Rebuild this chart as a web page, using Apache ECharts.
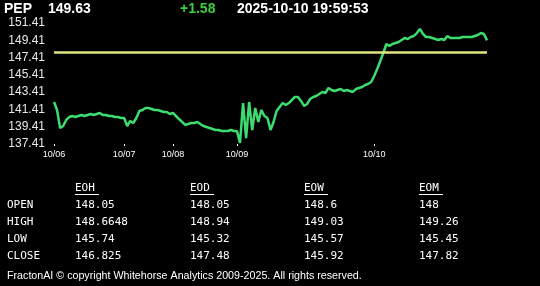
<!DOCTYPE html>
<html>
<head>
<meta charset="utf-8">
<script src="https://cdn.jsdelivr.net/npm/echarts@6/dist/echarts.min.js"></script>
<style>
html,body{margin:0;padding:0;background:#000;}
#c{width:540px;height:286px;}
</style>
</head>
<body>
<div id="c"></div>
<script>
// ---- data ----
var symbol = 'PEP';
var lastPrice = '149.63';
var change = '+1.58';
var stamp = '2025-10-10 19:59:53';
var prevClose = 148.05;

var days = ['10/06', '10/07', '10/08', '10/09', '10/10'];
var price1006 = [142.27,141.34,139.26,139.49,140.19,140.53,140.65,140.53,140.65,140.77,140.65,140.77,140.88,140.77,140.88,141.00,140.77,140.77,140.65,140.65,140.53,140.53,140.42];
var price1007 = [140.42,139.49,140.07,139.84,140.42,141.23,141.34,141.58,141.58,141.46,141.34,141.34,141.23,141.11,141.11,140.88];
var price1008 = [141.00,140.65,140.30,139.96,139.61,139.72,139.84,139.84,139.96,139.72,139.49,139.38,139.26,139.15,139.03,139.03,138.91,138.91,138.91,139.03,138.91];
var price1009 = [138.91,137.53,142.15,138.10,142.27,139.03,141.58,139.96,141.34,140.65,140.42,139.03,139.96,141.23,141.69,142.15,141.92,142.15,142.50,142.85,142.85,142.39,141.81,142.04,142.62,142.85,142.96,143.20,143.43,143.31,143.89,143.66,143.54,143.66,143.77,143.54,143.66,143.54,143.43,143.77,143.89,144.01,144.24,144.35,144.58];
var price1010 = [145.28,146.09,147.01,147.94,148.98,148.75,148.98,149.10,149.21,149.44,149.67,149.56,149.79,149.91,150.25,150.72,150.14,149.79,149.79,149.67,149.56,149.44,149.56,149.44,149.91,149.67,149.67,149.67,149.67,149.79,149.79,149.79,149.79,149.91,150.02,150.25,150.14,149.40];

var yTicksMin = 137.41, yTicksMax = 151.41, yTickStep = 2;

var colHeaders = ['EOH', 'EOD', 'EOW', 'EOM'];
var rowLabels = ['OPEN', 'HIGH', 'LOW', 'CLOSE'];
var eohVals = ['148.05', '148.6648', '145.74', '146.825'];
var eodVals = ['148.05', '148.94', '145.32', '147.48'];
var eowVals = ['148.6', '149.03', '145.57', '145.92'];
var eomVals = ['148', '149.26', '145.45', '147.82'];
var footer = 'FractonAI \u00a9 copyright Whitehorse Analytics 2009-2025. All rights reserved.';

// ---- build ----
var perDay = [price1006, price1007, price1008, price1009, price1010];
var cats = [], vals = [], dayStarts = {};
perDay.forEach(function (arr, d) {
  dayStarts[cats.length] = true;
  arr.forEach(function (v) { cats.push(days[d]); vals.push(v); });
});

var chart = echarts.init(document.getElementById('c'), null, {renderer: 'canvas'});

var graphics = [];
var hdrFont = 'bold 14px "Liberation Sans", Arial, sans-serif';
function txt(x, y, s, font, color, align) {
  graphics.push({type: 'text', x: x, y: y, silent: true,
    style: {text: s, font: font, fill: color, textAlign: align || 'left', textVerticalAlign: 'middle'}});
}
txt(4, 9, symbol, hdrFont, '#ffffff');
txt(48, 9, lastPrice, hdrFont, '#ffffff');
txt(180, 9, change, hdrFont, '#3ccf3c');
txt(237, 9, stamp, hdrFont, '#ffffff');

var monoFont = '11px "DejaVu Sans Mono", "Liberation Mono", monospace';
var colX = [75, 190, 304, 419];
var colVals = [eohVals, eodVals, eowVals, eomVals];
var rowY = [205, 222, 239, 256];
colHeaders.forEach(function (h, i) {
  txt(colX[i], 188, h, monoFont, '#ffffff');
  graphics.push({type: 'line', silent: true,
    shape: {x1: colX[i], y1: 194.5, x2: colX[i] + 24, y2: 194.5},
    style: {stroke: '#ffffff', lineWidth: 1}});
});
rowLabels.forEach(function (r, j) {
  txt(7, rowY[j], r, monoFont, '#ffffff');
  colVals.forEach(function (col, i) {
    txt(colX[i], rowY[j], col[j], monoFont, '#ffffff');
  });
});
txt(7, 276, footer, '10.7px "Liberation Sans", Arial, sans-serif', '#ffffff');

chart.setOption({
  backgroundColor: '#000000',
  animation: false,
  grid: {left: 54, right: 53, top: 23, height: 121, containLabel: false},
  xAxis: {
    type: 'category',
    data: cats,
    boundaryGap: false,
    axisLine: {show: false},
    axisTick: {show: true, length: 2, lineStyle: {color: '#ffffff'},
      interval: function (idx) { return !!dayStarts[idx]; }},
    axisLabel: {color: '#ffffff', fontSize: 9, fontFamily: 'Liberation Sans, Arial, sans-serif', margin: 6,
      interval: function (idx) { return !!dayStarts[idx]; }},
    splitLine: {show: false}
  },
  yAxis: {
    type: 'value',
    min: yTicksMin,
    max: yTicksMax,
    interval: yTickStep,
    axisLine: {show: false},
    axisTick: {show: false},
    splitLine: {show: false},
    axisLabel: {color: '#e8e8e8', fontSize: 12, fontFamily: 'Liberation Sans, Arial, sans-serif', margin: 9,
      formatter: function (v) { return v.toFixed(2); }}
  },
  series: [{
    type: 'line',
    data: vals,
    showSymbol: false,
    lineStyle: {color: '#3ddc70', width: 2.5},
    markLine: {
      silent: true,
      symbol: 'none',
      label: {show: false},
      lineStyle: {color: '#dfe47c', width: 2.5, type: 'solid'},
      data: [{yAxis: prevClose}]
    },
    z: 3
  }],
  graphic: graphics
});
</script>
</body>
</html>
